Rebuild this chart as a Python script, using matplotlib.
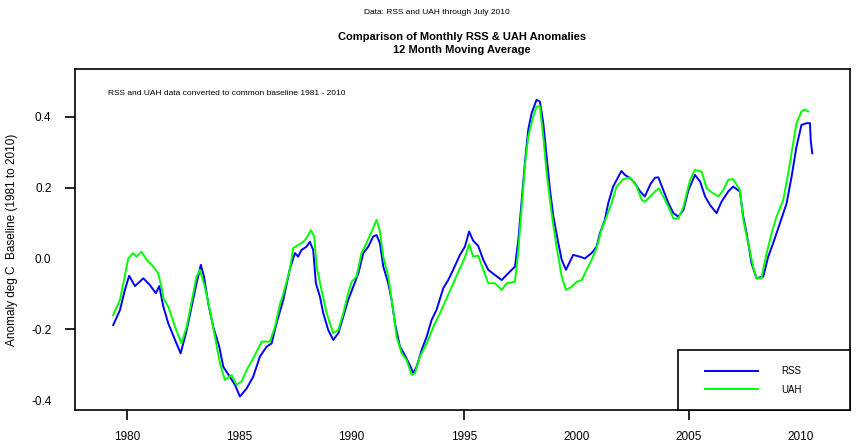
import numpy as np
import matplotlib
matplotlib.use("Agg")
import matplotlib.pyplot as plt
from matplotlib.patches import Rectangle

plt.rcParams['font.family'] = ['Liberation Sans', 'DejaVu Sans']

# 12 month moving averages (decimal year, anomaly deg C)
rss_year = [1979.39, 1979.69, 1979.91, 1980.10, 1980.36, 1980.73, 1981.02, 1981.29, 1981.44, 1981.62,
            1981.84, 1982.14, 1982.39, 1982.63, 1982.88, 1983.10, 1983.29, 1983.43, 1983.62, 1983.84,
            1984.11, 1984.29, 1984.58, 1984.81, 1985.03, 1985.33, 1985.62, 1985.92, 1986.22, 1986.44,
            1986.66, 1986.96, 1987.25, 1987.48, 1987.62, 1987.77, 1987.99, 1988.14, 1988.29, 1988.41,
            1988.59, 1988.74, 1988.96, 1989.18, 1989.41, 1989.63, 1989.85, 1990.07, 1990.30, 1990.52,
            1990.74, 1990.96, 1991.11, 1991.26, 1991.41, 1991.63, 1991.78, 1991.93, 1992.15, 1992.37,
            1992.59, 1992.74, 1992.89, 1993.12, 1993.34, 1993.56, 1993.78, 1994.08, 1994.30, 1994.52,
            1994.82, 1995.04, 1995.23, 1995.41, 1995.63, 1995.86, 1996.08, 1996.38, 1996.68, 1996.97,
            1997.27, 1997.42, 1997.57, 1997.71, 1997.86, 1998.01, 1998.23, 1998.38, 1998.53, 1998.68,
            1998.83, 1998.98, 1999.20, 1999.35, 1999.54, 1999.86, 2000.16, 2000.38, 2000.68, 2000.90,
            2001.05, 2001.27, 2001.42, 2001.64, 2001.87, 2002.01, 2002.16, 2002.39, 2002.61, 2002.83,
            2003.05, 2003.30, 2003.50, 2003.65, 2003.87, 2004.10, 2004.32, 2004.54, 2004.77, 2004.99,
            2005.28, 2005.51, 2005.73, 2005.95, 2006.24, 2006.46, 2006.76, 2006.98, 2007.28, 2007.43,
            2007.58, 2007.80, 2008.02, 2008.32, 2008.54, 2008.76, 2009.06, 2009.36, 2009.58, 2009.80,
            2010.02, 2010.25, 2010.40, 2010.43, 2010.50]
rss_anom = [-0.188, -0.146, -0.089, -0.049, -0.078, -0.056, -0.075, -0.098, -0.078, -0.136,
            -0.183, -0.230, -0.268, -0.211, -0.136, -0.070, -0.018, -0.051, -0.127, -0.193,
            -0.249, -0.306, -0.334, -0.357, -0.390, -0.367, -0.334, -0.277, -0.249, -0.240,
            -0.183, -0.117, -0.030, 0.015, 0.005, 0.024, 0.033, 0.047, 0.024, -0.070,
            -0.108, -0.155, -0.202, -0.230, -0.211, -0.164, -0.117, -0.080, -0.042, 0.015,
            0.033, 0.062, 0.066, 0.043, -0.023, -0.070, -0.117, -0.183, -0.249, -0.273,
            -0.301, -0.324, -0.306, -0.258, -0.221, -0.174, -0.145, -0.084, -0.061, -0.032,
            0.010, 0.033, 0.076, 0.050, 0.036, -0.004, -0.032, -0.047, -0.061, -0.042,
            -0.023, 0.052, 0.165, 0.269, 0.363, 0.410, 0.448, 0.443, 0.382, 0.288,
            0.193, 0.118, 0.043, -0.004, -0.032, 0.010, 0.005, 0.000, 0.015, 0.033,
            0.071, 0.109, 0.156, 0.203, 0.231, 0.247, 0.236, 0.227, 0.212, 0.190,
            0.175, 0.210, 0.228, 0.229, 0.193, 0.156, 0.128, 0.118, 0.137, 0.193,
            0.236, 0.217, 0.175, 0.151, 0.128, 0.160, 0.189, 0.203, 0.189, 0.118,
            0.071, -0.014, -0.056, -0.051, 0.005, 0.043, 0.099, 0.156, 0.231, 0.316,
            0.377, 0.382, 0.382, 0.335, 0.297]

uah_year = [1979.39, 1979.69, 1979.87, 1980.06, 1980.28, 1980.43, 1980.65, 1980.88, 1981.17, 1981.39,
            1981.54, 1981.62, 1981.84, 1982.14, 1982.43, 1982.66, 1982.88, 1983.10, 1983.25, 1983.47,
            1983.69, 1983.92, 1984.14, 1984.36, 1984.66, 1984.88, 1985.10, 1985.33, 1985.62, 1986.00,
            1986.36, 1986.59, 1986.81, 1986.96, 1987.11, 1987.25, 1987.40, 1987.62, 1987.85, 1987.99,
            1988.19, 1988.34, 1988.44, 1988.66, 1988.89, 1989.18, 1989.41, 1989.63, 1989.85, 1990.00,
            1990.22, 1990.44, 1990.66, 1990.89, 1991.11, 1991.26, 1991.41, 1991.63, 1991.85, 1992.00,
            1992.23, 1992.45, 1992.67, 1992.82, 1993.04, 1993.34, 1993.64, 1993.93, 1994.23, 1994.52,
            1994.82, 1995.04, 1995.23, 1995.41, 1995.63, 1995.86, 1996.08, 1996.38, 1996.68, 1996.90,
            1997.27, 1997.42, 1997.57, 1997.71, 1997.86, 1998.08, 1998.23, 1998.38, 1998.53, 1998.68,
            1998.90, 1999.12, 1999.35, 1999.54, 1999.79, 2000.01, 2000.24, 2000.46, 2000.68, 2000.90,
            2001.12, 2001.35, 2001.57, 2001.79, 2002.09, 2002.39, 2002.69, 2002.91, 2003.05, 2003.28,
            2003.50, 2003.68, 2003.87, 2004.10, 2004.32, 2004.54, 2004.77, 2005.06, 2005.28, 2005.58,
            2005.80, 2006.09, 2006.32, 2006.54, 2006.76, 2006.98, 2007.28, 2007.43, 2007.65, 2007.87,
            2008.02, 2008.24, 2008.47, 2008.69, 2008.91, 2009.21, 2009.43, 2009.65, 2009.80, 2010.02,
            2010.17, 2010.32]
uah_anom = [-0.160, -0.117, -0.061, 0.000, 0.015, 0.005, 0.019, -0.004, -0.023, -0.042,
            -0.080, -0.112, -0.136, -0.193, -0.240, -0.193, -0.122, -0.051, -0.032, -0.080,
            -0.145, -0.221, -0.296, -0.343, -0.329, -0.357, -0.348, -0.315, -0.282, -0.235,
            -0.235, -0.193, -0.130, -0.100, -0.065, -0.032, 0.029, 0.038, 0.047, 0.057,
            0.080, 0.062, -0.023, -0.089, -0.155, -0.211, -0.202, -0.155, -0.098, -0.066,
            -0.051, 0.015, 0.043, 0.076, 0.109, 0.076, 0.005, -0.051, -0.145, -0.221,
            -0.268, -0.287, -0.329, -0.324, -0.277, -0.240, -0.193, -0.155, -0.112, -0.070,
            -0.028, 0.003, 0.040, 0.005, 0.008, -0.032, -0.070, -0.070, -0.089, -0.070,
            -0.066, 0.024, 0.146, 0.259, 0.344, 0.401, 0.429, 0.429, 0.344, 0.241,
            0.128, 0.033, -0.051, -0.089, -0.080, -0.066, -0.061, -0.032, -0.004, 0.029,
            0.081, 0.118, 0.156, 0.203, 0.224, 0.229, 0.203, 0.165, 0.160, 0.175,
            0.189, 0.198, 0.175, 0.146, 0.113, 0.113, 0.146, 0.222, 0.250, 0.245,
            0.198, 0.184, 0.175, 0.193, 0.222, 0.224, 0.193, 0.109, 0.043, -0.023,
            -0.056, -0.056, 0.015, 0.071, 0.118, 0.165, 0.241, 0.325, 0.382, 0.415,
            0.421, 0.415]

year_ticks = [1980, 1985, 1990, 1995, 2000, 2005, 2010]
anom_ticks = [-0.4, -0.2, 0.0, 0.2, 0.4]
anom_labels = ["-0.4", "-0.2", "0.0", "0.2", "0.4"]

fig = plt.figure(figsize=(8.58, 4.46), dpi=100)
ax = fig.add_axes([75 / 858, 1 - 410 / 446, 775 / 858, 341 / 446])

ax.plot(rss_year, rss_anom, color="#0000FF", lw=1.4, label="RSS")
ax.plot(uah_year, uah_anom, color="#00FF00", lw=1.4, label="UAH")

ax.set_xlim(1977.69, 2012.18)
ax.set_ylim(-0.428, 0.535)

ax.set_xticks(year_ticks)
ax.set_xticklabels([str(y) for y in year_ticks], fontsize=8.5)
ax.set_yticks(anom_ticks)
ax.set_yticklabels(anom_labels, fontsize=8.5)
ax.tick_params(axis="x", direction="out", length=7, width=1.2, pad=8)
ax.tick_params(axis="y", direction="out", length=7, width=1.2, pad=10)

# only some tick marks survive in the original picture
for t, y in zip(ax.xaxis.get_major_ticks(), year_ticks):
    if y not in (1980, 1995, 2005):
        t.tick1line.set_visible(False)
for t, v in zip(ax.yaxis.get_major_ticks(), anom_ticks):
    if v not in (0.4, 0.2, -0.2):
        t.tick1line.set_visible(False)

for s in ax.spines.values():
    s.set_linewidth(1.2)

ax.set_ylabel("Anomaly deg C  Baseline (1981 to 2010)", fontsize=8.5)
ax.yaxis.set_label_coords(-0.0735, 0.5)

ax.text(0.0426, 0.9296, "RSS and UAH data converted to common baseline 1981 - 2010",
        transform=ax.transAxes, fontsize=6, va="center", ha="left")

fig.text(462 / 858, 1 - 37 / 446, "Comparison of Monthly RSS & UAH Anomalies",
         ha="center", va="center", fontsize=8, fontweight="bold")
fig.text(462 / 858, 1 - 50 / 446, "12 Month Moving Average",
         ha="center", va="center", fontsize=8, fontweight="bold")
fig.text(437 / 858, 1 - 13 / 446, "Data: RSS and UAH through July 2010",
         ha="center", va="center", fontsize=6)

# legend box in lower right corner
ax.add_patch(Rectangle((603 / 775, 0), 172 / 775, 60 / 341, transform=ax.transAxes,
                       facecolor="white", edgecolor="black", lw=1.2, zorder=5, clip_on=False))
leg = ax.legend(loc="center left", bbox_to_anchor=(630 / 775, 29.5 / 341), frameon=False,
                fontsize=7, handlelength=5.4, handletextpad=2.4, borderpad=0,
                labelspacing=0.9, borderaxespad=0)
leg.set_zorder(6)

fig.savefig("out.png", dpi=100)
